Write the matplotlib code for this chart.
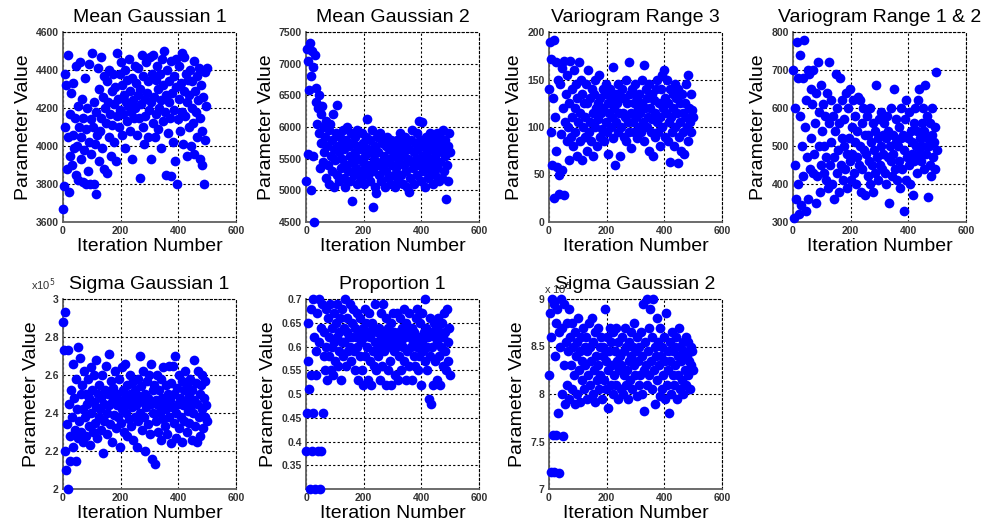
import numpy as np
import matplotlib
matplotlib.use("Agg")
import matplotlib.pyplot as plt
from matplotlib.ticker import FuncFormatter

plt.rcParams['font.family'] = ['Liberation Sans', 'DejaVu Sans']

# iteration numbers (every 2.5th sample of the 500 iterations)
iterations = np.arange(1, 501, 2.5)

mean_gauss1 = [
    3670, 3790, 4380, 4100, 4320, 3880, 4480, 4050, 3760, 4170, 3950, 4280, 3900, 4060, 4330, 3990, 4150, 3850, 4420, 4000, 4210, 3820, 4100, 4440, 3930,
    4050, 4250, 3810, 4150, 3980, 4360, 3800, 4090, 4200, 3870, 4020, 4430, 3800, 4140, 3960, 4490, 4100, 3800, 4230, 4010, 3750, 4180, 4060, 4410, 3920,
    4300, 4080, 4470, 4150, 3990, 4260, 4370, 3880, 4200, 4120, 4340, 3860, 4230, 4050, 4400, 4170, 3950, 4290, 4110, 4380, 4020, 4220, 4310, 3920, 4160,
    4490, 4250, 4100, 4380, 4190, 4440, 4060, 4320, 4170, 4270, 3990, 4400, 4230, 4130, 4350, 4210, 4460, 4080, 4290, 4180, 3930, 4360, 4240, 4150, 4420,
    4200, 4330, 4060, 4270, 4410, 4150, 3830, 4300, 4220, 4480, 4100, 4370, 4010, 4250, 4160, 4440, 4280, 4050, 4340, 4190, 4470, 3930, 4230, 4380, 4120,
    4480, 4260, 4050, 4350, 4170, 4420, 4090, 4300, 4200, 4380, 3990, 4240, 4460, 4130, 4320, 4500, 4180, 4270, 3850, 4400, 4070, 4230, 4340, 4150, 4450,
    3840, 4280, 4020, 4370, 4190, 3920, 4310, 4460, 3800, 4140, 4250, 4420, 4080, 4330, 4180, 4490, 4010, 4290, 4470, 4160, 4380, 4230, 3950, 4350, 4100,
    4270, 4400, 4000, 4200, 4340, 4120, 4450, 3960, 4290, 4180, 4370, 4050, 4240, 4410, 3930, 4150, 4320, 4080, 3900, 4260, 3800, 4390, 4030, 4210, 4410,
]

mean_gauss2 = [
    5150, 7230, 5580, 7050, 6580, 7320, 6800, 5000, 7200, 6950, 5550, 4500, 7130, 6620, 6400, 6050, 6300, 5900, 6500, 5350, 6200, 5750, 6330, 5450, 6000,
    5600, 5850, 5200, 6100, 5700, 5400, 5950, 5100, 6050, 5550, 5300, 5800, 6200, 5050, 5650, 5480, 5900, 5250, 6340, 5700, 5150, 5600, 5850, 5350, 5750,
    5500, 5950, 5200, 5650, 5050, 5800, 5400, 6000, 5300, 5700, 5550, 5150, 5900, 4830, 5450, 5750, 5250, 5600, 5850, 5350, 5950, 5100, 5500, 5700, 5300,
    5650, 5200, 5900, 5450, 5750, 5100, 5550, 5350, 5850, 6120, 5250, 5650, 5400, 5800, 5150, 5600, 5950, 5300, 4730, 5500, 5700, 5050, 4960, 5850, 5400,
    5600, 5250, 5900, 5450, 5150, 5750, 5350, 5800, 5550, 5050, 5700, 5300, 5850, 5450, 5200, 5650, 5500, 5100, 5800, 5400, 5600, 5250, 5750, 5050, 5550,
    5350, 5800, 5150, 5650, 5450, 5900, 5250, 5550, 5750, 5100, 5600, 5400, 5850, 5300, 5700, 5050, 5500, 4970, 5650, 5200, 5800, 5450, 5950, 5350, 5600,
    5100, 5750, 5500, 5900, 5250, 5650, 6100, 5400, 5800, 5150, 5550, 6080, 5300, 5700, 5450, 5050, 5850, 5350, 5600, 5200, 5750, 5500, 5900, 5300, 5650,
    5450, 5100, 5800, 5550, 5250, 5700, 5900, 5350, 5600, 5150, 5850, 5450, 5750, 5200, 5650, 5950, 5300, 5550, 5800, 4870, 5400, 5700, 5150, 5900, 5600,
]

vario_range3 = [
    140, 190, 95, 172, 60, 130, 192, 25, 110, 168, 75, 58, 150, 30, 50, 145, 93, 162, 55, 120, 170, 28, 105, 135, 85,
    155, 100, 125, 65, 170, 90, 140, 110, 80, 160, 120, 95, 145, 70, 130, 105, 168, 85, 115, 150, 65, 135, 100, 125, 90,
    110, 145, 75, 125, 160, 95, 130, 105, 85, 140, 115, 70, 135, 100, 150, 120, 80, 125, 108, 155, 90, 130, 115, 98, 140,
    120, 85, 135, 105, 145, 95, 125, 72, 115, 140, 100, 130, 110, 88, 163, 120, 60, 135, 105, 125, 95, 145, 115, 70, 130,
    100, 140, 115, 90, 130, 110, 150, 85, 125, 105, 168, 95, 135, 115, 78, 140, 105, 125, 95, 145, 110, 130, 88, 120, 100,
    135, 115, 95, 150, 125, 105, 165, 85, 120, 140, 100, 130, 110, 75, 145, 120, 95, 135, 108, 70, 128, 115, 90, 140, 105,
    150, 95, 125, 110, 80, 140, 155, 100, 120, 160, 90, 130, 115, 150, 85, 125, 105, 63, 140, 110, 95, 135, 120, 80, 145,
    100, 130, 115, 62, 140, 90, 125, 105, 75, 135, 115, 95, 72, 125, 110, 145, 100, 85, 155, 120, 105, 135, 95, 118, 110,
]

vario_range12 = [
    700, 310, 450, 600, 360, 775, 400, 680, 320, 580, 740, 345, 500, 680, 420, 780, 550, 330, 620, 470, 700, 360, 690, 440, 650,
    520, 610, 430, 700, 480, 560, 350, 640, 420, 720, 500, 590, 380, 660, 450, 540, 610, 430, 500, 580, 410, 470, 640, 390, 560,
    720, 450, 620, 510, 400, 580, 470, 360, 540, 690, 430, 600, 490, 380, 560, 680, 450, 520, 620, 410, 500, 570, 440, 640, 480,
    390, 600, 520, 460, 650, 410, 550, 480, 620, 430, 510, 580, 400, 470, 540, 630, 450, 500, 620, 380, 560, 440, 600, 490, 530,
    370, 480, 580, 420, 530, 460, 600, 400, 510, 450, 560, 380, 490, 540, 430, 660, 470, 520, 410, 570, 450, 500, 590, 440, 530,
    480, 560, 430, 520, 400, 580, 470, 540, 350, 500, 460, 600, 420, 530, 480, 650, 440, 510, 570, 410, 500, 460, 550, 390, 520,
    600, 440, 530, 330, 490, 570, 410, 620, 470, 520, 450, 590, 400, 540, 480, 510, 370, 560, 460, 600, 500, 430, 540, 620, 480,
    650, 520, 460, 560, 500, 600, 440, 540, 660, 480, 520, 580, 365, 500, 450, 560, 420, 530, 600, 470, 510, 440, 550, 695, 490,
]

# in units of 1e5
sigma_gauss1 = [
    2.88, 2.73, 2.20, 2.93, 2.10, 2.34, 2.00, 2.73, 2.45, 2.28, 2.15, 2.52, 2.38, 2.66, 2.22, 2.48, 2.31, 2.58, 2.15, 2.42, 2.27, 2.75, 2.36, 2.69, 2.50,
    2.30, 2.55, 2.42, 2.25, 2.62, 2.38, 2.50, 2.28, 2.45, 2.58, 2.33, 2.48, 2.23, 2.64, 2.40, 2.52, 2.30, 2.46, 2.60, 2.35, 2.43, 2.68, 2.27, 2.50, 2.38,
    2.55, 2.42, 2.31, 2.48, 2.60, 2.19, 2.45, 2.36, 2.52, 2.65, 2.40, 2.29, 2.50, 2.44, 2.71, 2.34, 2.57, 2.46, 2.25, 2.53, 2.39, 2.48, 2.62, 2.32, 2.44,
    2.50, 2.38, 2.58, 2.22, 2.46, 2.35, 2.64, 2.42, 2.52, 2.30, 2.48, 2.66, 2.40, 2.55, 2.28, 2.45, 2.37, 2.60, 2.50, 2.33, 2.43, 2.56, 2.26, 2.47, 2.38,
    2.52, 2.44, 2.22, 2.58, 2.36, 2.49, 2.70, 2.40, 2.54, 2.31, 2.46, 2.62, 2.38, 2.20, 2.50, 2.43, 2.57, 2.34, 2.48, 2.60, 2.29, 2.45, 2.66, 2.16, 2.52,
    2.40, 2.55, 2.13, 2.47, 2.36, 2.60, 2.44, 2.30, 2.52, 2.40, 2.58, 2.26, 2.48, 2.37, 2.64, 2.45, 2.33, 2.55, 2.42, 2.29, 2.50, 2.65, 2.38, 2.47, 2.24,
    2.56, 2.43, 2.65, 2.35, 2.50, 2.70, 2.40, 2.27, 2.53, 2.45, 2.60, 2.32, 2.48, 2.38, 2.57, 2.25, 2.44, 2.52, 2.36, 2.62, 2.46, 2.30, 2.55, 2.41, 2.49,
    2.35, 2.58, 2.44, 2.26, 2.52, 2.40, 2.68, 2.47, 2.33, 2.56, 2.25, 2.45, 2.62, 2.38, 2.50, 2.28, 2.55, 2.42, 2.60, 2.32, 2.48, 2.38, 2.57, 2.44, 2.36,
]

proportion1 = [
    0.38, 0.46, 0.57, 0.65, 0.51, 0.30, 0.68, 0.54, 0.38, 0.70, 0.46, 0.62, 0.30, 0.59, 0.54, 0.67, 0.38, 0.70, 0.61, 0.30, 0.64, 0.38, 0.69, 0.46, 0.58,
    0.63, 0.55, 0.68, 0.60, 0.53, 0.66, 0.58, 0.62, 0.69, 0.55, 0.64, 0.60, 0.54, 0.67, 0.61, 0.57, 0.65, 0.62, 0.69, 0.56, 0.63, 0.59, 0.66, 0.53, 0.61,
    0.68, 0.58, 0.64, 0.61, 0.70, 0.56, 0.63, 0.66, 0.59, 0.62, 0.69, 0.60, 0.57, 0.65, 0.62, 0.68, 0.59, 0.64, 0.55, 0.62, 0.67, 0.60, 0.53, 0.63, 0.58,
    0.66, 0.61, 0.55, 0.64, 0.52, 0.62, 0.68, 0.58, 0.65, 0.60, 0.53, 0.63, 0.67, 0.57, 0.62, 0.52, 0.65, 0.59, 0.64, 0.56, 0.69, 0.61, 0.55, 0.63, 0.60,
    0.58, 0.64, 0.53, 0.62, 0.67, 0.56, 0.61, 0.69, 0.59, 0.63, 0.52, 0.66, 0.60, 0.55, 0.64, 0.62, 0.57, 0.65, 0.52, 0.61, 0.67, 0.59, 0.63, 0.54, 0.62,
    0.60, 0.67, 0.53, 0.63, 0.58, 0.66, 0.61, 0.55, 0.64, 0.60, 0.68, 0.57, 0.62, 0.53, 0.65, 0.59, 0.63, 0.67, 0.56, 0.62, 0.60, 0.53, 0.64, 0.61, 0.58,
    0.63, 0.56, 0.66, 0.60, 0.68, 0.55, 0.62, 0.58, 0.65, 0.52, 0.61, 0.67, 0.59, 0.63, 0.70, 0.57, 0.64, 0.60, 0.55, 0.62, 0.49, 0.66, 0.58, 0.48, 0.63,
    0.60, 0.52, 0.65, 0.62, 0.57, 0.64, 0.53, 0.61, 0.66, 0.58, 0.63, 0.52, 0.60, 0.65, 0.56, 0.62, 0.67, 0.59, 0.63, 0.55, 0.68, 0.61, 0.57, 0.64, 0.54,
]

# in units of 1e5
sigma_gauss2 = [
    8.2, 8.85, 7.18, 8.6, 9.0, 7.57, 8.95, 7.18, 8.4, 8.75, 7.57, 8.9, 7.8, 8.65, 7.17, 8.5, 9.0, 8.0, 8.7, 7.56, 8.3, 8.95, 7.9, 8.55, 8.75,
    8.1, 8.45, 8.9, 7.95, 8.6, 8.3, 8.75, 8.05, 8.5, 8.2, 8.65, 7.9, 8.4, 8.55, 8.0, 8.8, 8.25, 8.45, 7.92, 8.6, 8.15, 8.35, 8.7, 8.05, 8.5,
    8.3, 8.6, 7.95, 8.45, 8.2, 8.75, 8.1, 8.5, 8.35, 8.8, 8.0, 8.55, 8.25, 7.92, 8.65, 8.4, 8.15, 8.7, 8.3, 8.05, 8.5, 8.2, 8.6, 7.95, 8.4,
    8.5, 8.15, 8.9, 8.35, 8.05, 8.6, 7.85, 8.25, 8.45, 8.7, 8.1, 8.55, 8.3, 8.0, 8.65, 8.2, 8.45, 8.1, 8.7, 8.35, 7.95, 8.55, 8.25, 8.4, 8.05,
    8.3, 8.6, 8.0, 8.45, 8.2, 8.7, 8.1, 8.5, 8.25, 7.95, 8.55, 8.35, 8.15, 8.65, 8.4, 8.05, 8.5, 8.3, 8.75, 8.2, 8.45, 7.98, 8.6, 8.35, 8.1,
    8.5, 8.2, 8.65, 8.0, 8.4, 8.95, 8.25, 7.82, 8.55, 8.3, 9.0, 8.1, 8.45, 8.7, 8.2, 8.9, 8.35, 8.05, 8.6, 9.0, 8.25, 8.5, 7.9, 8.4, 8.8,
    8.15, 8.55, 8.3, 7.98, 8.7, 8.4, 8.05, 8.5, 8.2, 8.6, 7.95, 8.35, 8.85, 8.1, 8.45, 8.25, 7.8, 8.55, 8.35, 8.0, 8.65, 8.2, 8.45, 8.1, 8.5,
    8.3, 8.6, 7.95, 8.4, 8.2, 8.7, 8.05, 8.5, 8.35, 8.15, 8.55, 8.0, 8.45, 8.25, 8.6, 8.1, 8.4, 8.55, 8.2, 8.35, 8.05, 8.5, 8.3, 8.45, 8.25,
]

titles = ["Mean Gaussian 1", "Mean Gaussian 2", "Variogram Range 3", "Variogram Range 1 & 2",
          "Sigma Gaussian 1", "Proportion 1", "Sigma Gaussian 2"]
series = [mean_gauss1, mean_gauss2, vario_range3, vario_range12,
          sigma_gauss1, proportion1, sigma_gauss2]
ylims = [(3600, 4600), (4500, 7500), (0, 200), (300, 800), (2, 3), (0.3, 0.7), (7, 9)]
yticks = [np.arange(3600, 4601, 200), np.arange(4500, 7501, 500), np.arange(0, 201, 50),
          np.arange(300, 801, 100), np.arange(2, 3.01, 0.2), np.arange(0.35, 0.701, 0.05),
          np.arange(7, 9.01, 0.5)]
xticks = [0, 200, 400, 600]

fig = plt.figure(figsize=(9.92, 5.28), dpi=100)

lefts = [63, 306, 549, 793]
tops = [32, 299]
w, h = 173, 190

for i in range(7):
    row, col = divmod(i, 4)
    ax = fig.add_axes([lefts[col] / 992, 1 - (tops[row] + h) / 528, w / 992, h / 528])
    ax.plot(iterations, series[i], 'o', color='blue', markersize=7, markeredgewidth=0,
            clip_on=False, zorder=3)
    ax.set_xlim(0, 600)
    ax.set_ylim(*ylims[i])
    ax.set_xticks(xticks)
    ax.set_yticks(yticks[i])
    ax.yaxis.set_major_formatter(FuncFormatter(lambda v, p: '%g' % round(v, 4)))
    ax.grid(True, color='black', linestyle=(0, (2, 2)), linewidth=0.8)
    ax.tick_params(direction='in', length=0, labelsize=7.5, pad=3, colors='#333333')
    for lab in ax.get_xticklabels() + ax.get_yticklabels():
        lab.set_fontweight('bold')
    for s in ['left', 'bottom']:
        ax.spines[s].set_color('#606060')
        ax.spines[s].set_linewidth(1.3)
    for s in ['top', 'right']:
        ax.spines[s].set_linestyle((0, (2, 2)))
        ax.spines[s].set_linewidth(0.8)
    ax.set_title(titles[i], fontsize=14, pad=7)
    ax.set_xlabel("Iteration Number", fontsize=14, labelpad=1)
    ax.set_ylabel("Parameter Value", fontsize=14, labelpad=3)

fig.text(31 / 992, 1 - 293 / 528, r'x10$^5$', fontsize=8, color='#333333', va='bottom')
fig.text(544 / 992, 1 - 297 / 528, r'x 10$^5$', fontsize=8, color='#333333', va='bottom', zorder=0)

fig.savefig("out.png", dpi=100)
